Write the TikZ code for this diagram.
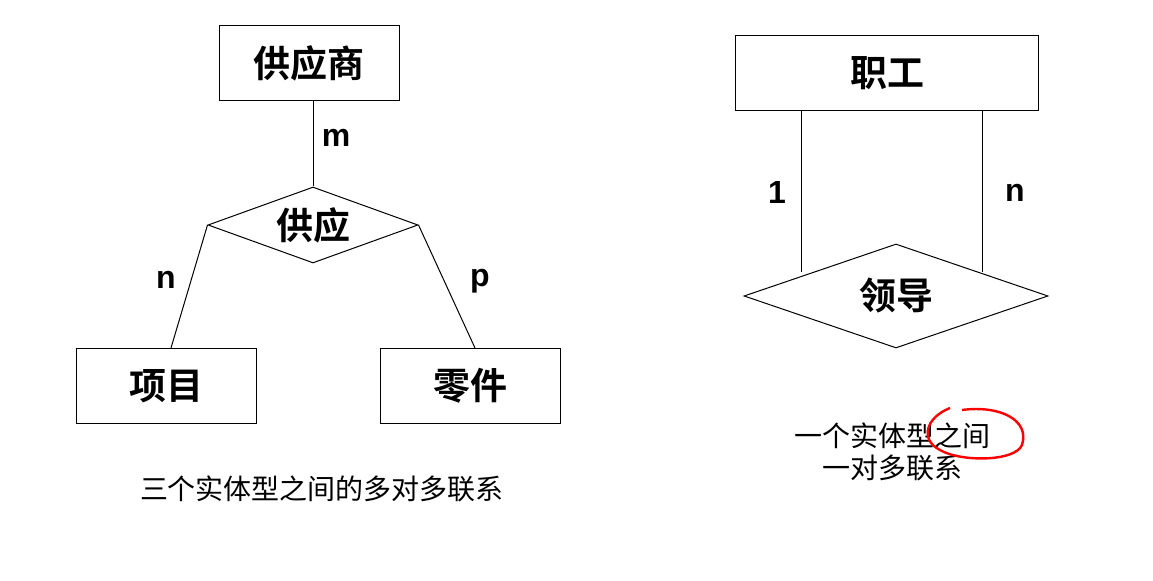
\documentclass[tikz,border=0pt]{standalone}
\usepackage{fontspec}
\setmainfont{Liberation Sans}
\newfontfamily\cjkb[BoldFont={Noto Sans CJK SC Bold}]{Noto Sans CJK SC}
\usetikzlibrary{shapes.geometric}
\begin{document}
\begin{tikzpicture}[x=0.5pt,y=-0.5pt]
            \tikzset{entity/.style = {shape=rectangle, draw, line width=0.5pt, minimum width=90pt, minimum height=37.5pt, font=\cjkb\bfseries\fontsize{18.5}{20}\selectfont}}
            \tikzset{relation/.style = {shape=diamond, draw, line width=0.5pt, inner sep=0pt, font=\cjkb\bfseries\fontsize{18.5}{20}\selectfont}}
            \tikzset{card/.style = {font=\bfseries\fontsize{16}{18}\selectfont}}
            \tikzset{caption/.style = {font=\cjkb\fontsize{14}{16}\selectfont, align=center}}
            \useasboundingbox (0,0) rectangle (1153,581);
            % left: entities and relation
            \node[entity] (supplier) at (309,63) {供应商};
            \node[relation, aspect=2.8, minimum width=105pt, minimum height=38pt] (supply) at (313,225) {供应};
            \node[entity] (project) at (166,386) {项目};
            \node[entity] (part) at (470,386) {零件};
            \coordinate (pj) at (171,348);
            \coordinate (pt) at (475,348);
            % left: edges
            \draw[line width=0.5pt] (supplier.south -| supply.north) -- (supply.north);
            \draw[line width=0.5pt] (supply.west) -- (pj);
            \draw[line width=0.5pt] (supply.east) -- (pt);
            \node[card] (m) at (336,138) {m};
            \node[card] (n1) at (166,280) {n};
            \node[card] (p) at (480,281) {p};
            \node[caption] (cap1) at (322,489) {三个实体型之间的多对多联系};
            % right: entity and relation
            \node[entity, minimum width=151.5pt] (worker) at (887,73) {职工};
            \node[relation, aspect=2.9, minimum width=152pt, minimum height=52pt] (lead) at (896,296) {领导};
            \coordinate (wl) at (801,111);
            \coordinate (wr) at (982,111);
            \coordinate (ll) at (801,272);
            \coordinate (lr) at (982,272);
            % right: edges
            \draw[line width=0.5pt] (wl) -- (ll);
            \draw[line width=0.5pt] (wr) -- (lr);
            \node[card] (one) at (777,193) {1};
            \node[card] (n2) at (1015,193) {n};
            \node[caption] (cap2) at (892,452) {一个实体型之间\\一对多联系};
            % red mark
            \draw[red, line width=1.2pt] (962,410) .. controls (1000,405) and (1030,420) .. (1022,445)
                .. controls (1015,462) and (960,462) .. (940,450)
                .. controls (920,440) and (925,418) .. (950,408);
        \end{tikzpicture}
\end{document}
